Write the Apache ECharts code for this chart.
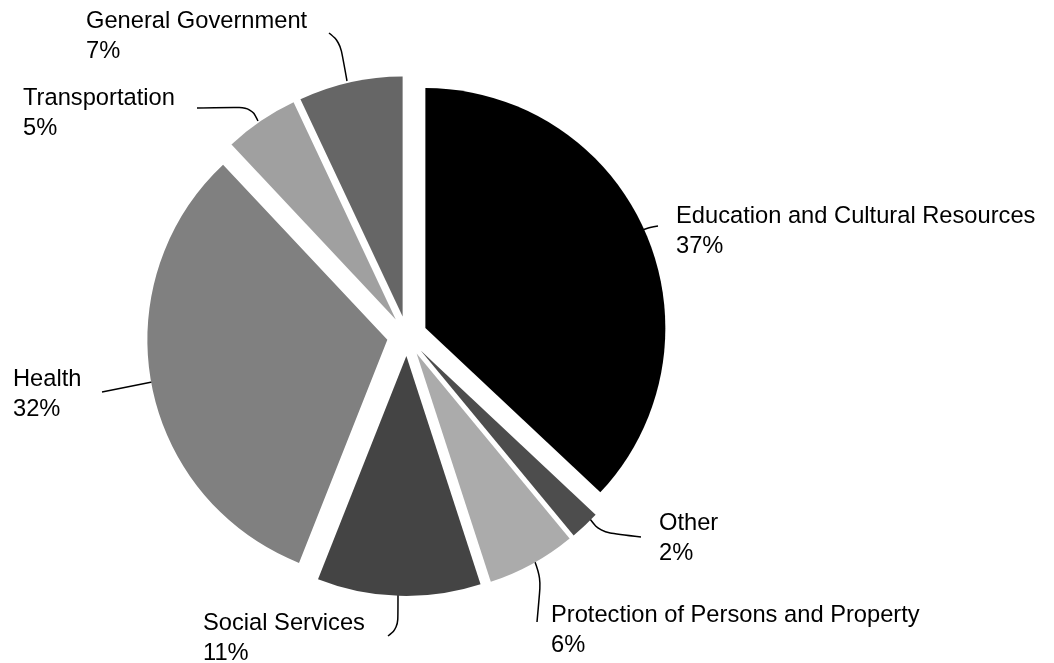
<!DOCTYPE html>
<html>
<head>
<meta charset="utf-8">
<script src="https://cdn.jsdelivr.net/npm/echarts@6/dist/echarts.min.js"></script>
<style>
html, body { margin: 0; background: #fff; }
#chart { width: 1054px; height: 663px; }
</style>
</head>
<body>
<div id="chart"></div>
<script>
const categories = [
    'Education and Cultural Resources',
    'Other',
    'Protection of Persons and Property',
    'Social Services',
    'Health',
    'Transportation',
    'General Government'
];
const values = [37, 2, 6, 11, 32, 5, 7];
const sliceColors = ['#000000', '#4d4d4d', '#ababab', '#444444', '#808080', '#a0a0a0', '#666666'];

// hand placed label boxes (top-left) and leader lines, like the original
const labelPlacement = [
    {x: 676, y: 201, line: [[640, 231], [650, 227], [658, 226]]},
    {x: 659, y: 508, line: [[590, 519], [600, 532], [641, 537]]},
    {x: 551, y: 600, line: [[535, 562], [541, 578], [537, 622], [542, 627]]},
    {x: 203, y: 608, line: [[398, 593], [398, 628], [388, 636]]},
    {x: 13, y: 364, line: [[152, 382], [102, 392]]},
    {x: 23, y: 83, line: [[258, 121], [251, 107], [197, 108]]},
    {x: 86, y: 6, line: [[347, 81], [340, 42], [329, 33]]}
];

const chart = echarts.init(document.getElementById('chart'));

const pieBase = {
    type: 'pie',
    center: [407, 336],
    radius: 240,
    startAngle: 90,
    clockwise: true,
    percentPrecision: 0,
    emphasis: {disabled: true}
};

chart.setOption({
    animation: false,
    series: [
        // exploded slices (selected state moves them out)
        Object.assign({}, pieBase, {
            selectedMode: 'multiple',
            selectedOffset: 20,
            itemStyle: {borderWidth: 0},
            label: {show: false},
            labelLine: {show: false},
            data: categories.map((name, i) => ({
                name: name,
                value: values[i],
                selected: true,
                itemStyle: {color: sliceColors[i]}
            }))
        }),
        // same data again, invisible slices, only carrying the labels
        Object.assign({}, pieBase, {
            silent: true,
            itemStyle: {color: 'rgba(0,0,0,0)', borderWidth: 0},
            label: {
                formatter: '{b}\n{d}%',
                fontFamily: 'Liberation Sans',
                fontSize: 23.7,
                lineHeight: 30,
                color: '#000'
            },
            labelLine: {
                show: true,
                smooth: 0.4,
                lineStyle: {color: '#000', width: 1.5}
            },
            labelLayout: function (params) {
                const p = labelPlacement[params.dataIndex];
                return {
                    x: p.x,
                    y: p.y,
                    align: 'left',
                    verticalAlign: 'top',
                    labelLinePoints: p.line
                };
            },
            data: categories.map((name, i) => ({name: name, value: values[i]}))
        })
    ]
});
</script>
</body>
</html>
